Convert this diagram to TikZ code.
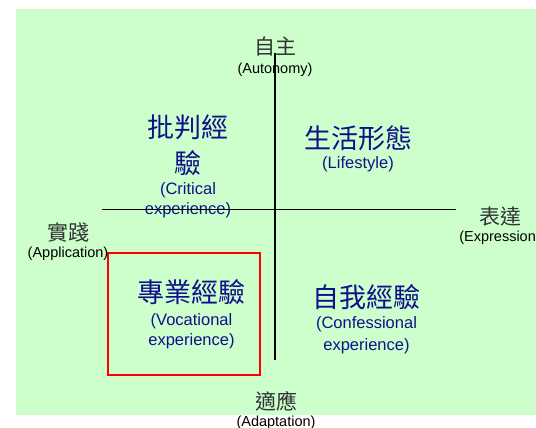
\documentclass[tikz,border=0pt]{standalone}
\usepackage{fontspec}
\setmainfont{Liberation Sans}
\newfontfamily\cjk{Noto Sans CJK TC}
\usetikzlibrary{positioning}
\definecolor{bggreen}{HTML}{CCFFCC}
\definecolor{quadblue}{HTML}{10108A}

\begin{document}
\begin{tikzpicture}[x=1pt, y=-1pt, inner sep=0pt, outer sep=0pt,
    axislabel/.style={font=\cjk\fontsize{21}{24}\selectfont, text=black!80},
    axisnote/.style={font=\fontsize{14.5}{17}\selectfont, text=black},
    quadtitle/.style={font=\cjk\fontsize{27}{36}\selectfont, text=quadblue, align=center},
    quadnote/.style={font=\fontsize{16.5}{20.5}\selectfont, text=quadblue, align=center},
    axisline/.style={line width=1.4pt},
    vocbox/.style={draw=red, line width=2pt, minimum width=152pt, minimum height=122pt}]
    \useasboundingbox (0,0) rectangle (536,428);
    \fill[bggreen] (16.4,9.2) rectangle (536,415);

    % Highlighted quadrant
    \node[vocbox] (vocframe) at (184,314) {};

    % Axis ends
    \node[axislabel] (auto) at (275,47) {自主};
    \node[axisnote] (autoen) [below=6.5pt of auto] {(Autonomy)};
    \node[axislabel] (prac) at (68,232) {實踐};
    \node[axisnote] (pracen) [below=5.5pt of prac] {(Application)};
    \node[axislabel] (expr) at (500,217) {表達};
    \node[axisnote] (expren) [below=4pt of expr] {(Expression)};
    \node[axislabel] (adapt) at (276,401) {適應};
    \node[axisnote] (adapten) [below=5pt of adapt] {(Adaptation)};

    % Quadrants
    \node[quadtitle] (crit) at (188,145) {批判經\\驗};
    \node[quadnote] (criten) [below=7pt of crit] {(Critical\\experience)};
    \node[quadtitle] (life) at (358,138) {生活形態};
    \node[quadnote] (lifeen) [below=6pt of life] {(Lifestyle)};
    \node[quadtitle] (voc) at (191.5,292) {專業經驗};
    \node[quadnote] (vocen) [below=8.5pt of voc] {(Vocational\\experience)};
    \node[quadtitle] (conf) at (366.5,297) {自我經驗};
    \node[quadnote, font=\fontsize{16.5}{22}\selectfont] (confen) [below=7pt of conf] {(Confessional\\experience)};

    % Axes
    \coordinate (ytop) at (275,53);
    \coordinate (ybot) at (275,360);
    \coordinate (xleft) at (102,209.5);
    \coordinate (xright) at (456,209.5);
    \draw[axisline] (ytop) -- (ybot);
    \draw[axisline] (xleft) -- (xright);
\end{tikzpicture}
\end{document}
